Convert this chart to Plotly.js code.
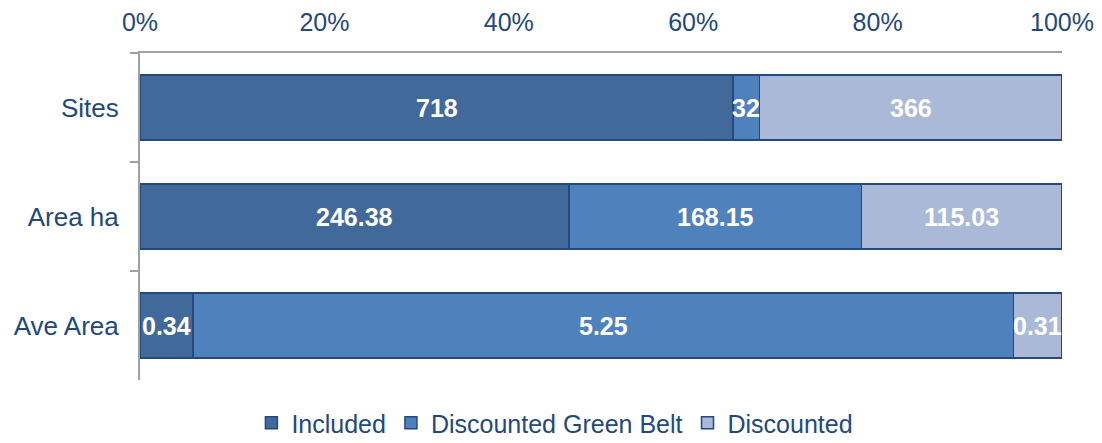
<!DOCTYPE html>
<html>
<head>
<meta charset="utf-8">
<script src="https://cdn.plot.ly/plotly-3.0.1.min.js"></script>
<style>html,body{margin:0;padding:0;background:#fff;}#chart{width:1102px;height:443px;}</style>
</head>
<body>
<div id="chart"></div>
<script>
const categories = ["Sites", "Area ha", "Ave Area"];
const seriesNames = ["Included", "Discounted Green Belt", "Discounted"];
const included = [718, 246.38, 0.34];
const discountedGreenBelt = [32, 168.15, 5.25];
const discounted = [366, 115.03, 0.31];
const included_labels = ["718", "246.38", "0.34"];
const greenBelt_labels = ["32", "168.15", "5.25"];
const discounted_labels = ["366", "115.03", "0.31"];
const xTickVals = [0, 20, 40, 60, 80, 100];
const xTickText = ["0%", "20%", "40%", "60%", "80%", "100%"];

const colors = ["#416A9B", "#4F81BD", "#AAB9D7"];
const lineColor = "#25497A";
const textColor = "#1F497D";
const font = "Liberation Sans, Arial, sans-serif";

const series = [included, discountedGreenBelt, discounted];
const labels = [included_labels, greenBelt_labels, discounted_labels];

const data = series.map((vals, k) => ({
  type: "bar", orientation: "h", name: seriesNames[k],
  y: categories, x: vals,
  marker: {color: colors[k], line: {color: lineColor, width: 1.5}},
  hoverinfo: "skip"
}));

// data labels: centre of each stacked segment, in percent of the row total
const annotations = [];
categories.forEach((cat, i) => {
  const total = series.reduce((s, arr) => s + arr[i], 0);
  let cum = 0;
  series.forEach((arr, k) => {
    const mid = (cum + arr[i] / 2) / total * 100;
    cum += arr[i];
    annotations.push({
      x: mid, y: cat, xref: "x", yref: "y", text: labels[k][i], showarrow: false,
      font: {family: font, size: 25, color: "#ffffff", weight: "bold"},
      xanchor: "center", yanchor: "middle"
    });
  });
});

const layout = {
  width: 1102, height: 443,
  margin: {l: 140, r: 40, t: 53, b: 63},
  paper_bgcolor: "#ffffff", plot_bgcolor: "#ffffff",
  barmode: "stack", barnorm: "percent", bargap: 0.4,
  font: {family: font, size: 25, color: textColor},
  annotations: annotations,
  xaxis: {
    side: "top", range: [0, 100], tickvals: xTickVals, ticktext: xTickText,
    showgrid: false, zeroline: false, showline: true, linecolor: "#A0A0A0", linewidth: 2,
    ticks: "", ticklabelstandoff: 10, automargin: false,
    tickfont: {family: font, size: 25, color: textColor}, fixedrange: true
  },
  yaxis: {
    type: "category", categoryorder: "array", categoryarray: categories,
    autorange: "reversed", showgrid: false, zeroline: false,
    showline: true, linecolor: "#A0A0A0", linewidth: 2,
    ticks: "outside", tickson: "boundaries", ticklen: 8, tickcolor: "#A0A0A0", tickwidth: 2,
    ticklabelstandoff: 14, automargin: false,
    tickfont: {family: font, size: 26, color: textColor}, fixedrange: true
  },
  showlegend: true,
  legend: {
    orientation: "h", x: 0.45, xanchor: "center", xref: "paper",
    y: 0.045, yanchor: "middle", yref: "container",
    traceorder: "normal", font: {family: font, size: 25, color: textColor},
    itemclick: false, itemdoubleclick: false
  }
};

Plotly.newPlot("chart", data, layout, {staticPlot: true, displayModeBar: false});
</script>
</body>
</html>
